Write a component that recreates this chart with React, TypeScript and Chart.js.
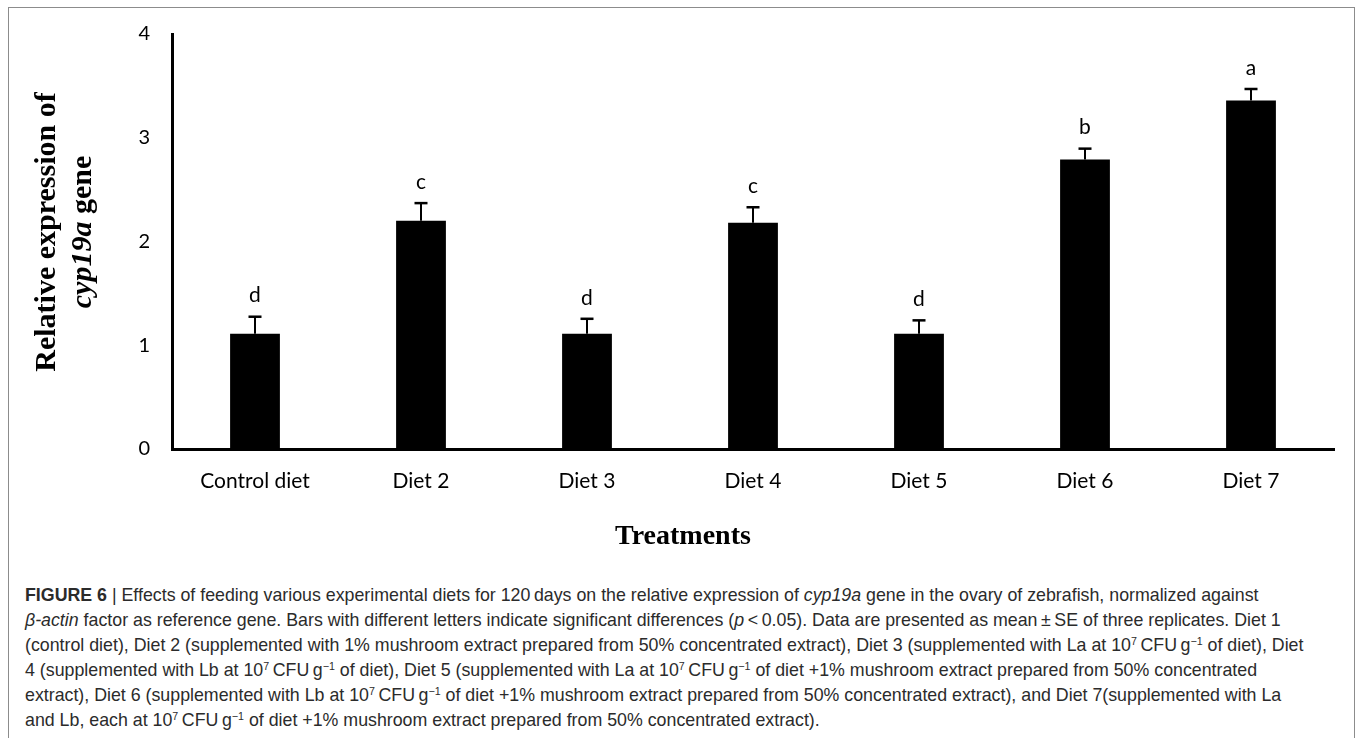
import { useEffect, useRef } from "react";
import { Chart, registerables } from "chart.js";

Chart.register(...registerables);

// Treatments on the x axis and the measured relative expression (mean ± SE)
const treatments = ["Control diet", "Diet 2", "Diet 3", "Diet 4", "Diet 5", "Diet 6", "Diet 7"];
const meanExpression = [1.11, 2.2, 1.11, 2.18, 1.11, 2.79, 3.36];
const standardError = [0.165, 0.17, 0.145, 0.15, 0.13, 0.105, 0.11];
const significanceLetters = ["d", "c", "d", "c", "d", "b", "a"];
const yTickValues = [0, 1, 2, 3, 4];

const TICK_FONT = "Lato, 'Open Sans', sans-serif";
const SERIF = "'Liberation Serif', 'Times New Roman', serif";

// Error bars and the significance letters above each bar
const errorBarPlugin = {
  id: "errorBars",
  afterDatasetsDraw(chart: any) {
    const { ctx, scales } = chart;
    const x = scales.x;
    const y = scales.y;
    ctx.save();
    ctx.strokeStyle = "#000";
    ctx.fillStyle = "#000";
    meanExpression.forEach((v, i) => {
      const cx = x.getPixelForValue(i);
      const yTop = y.getPixelForValue(v);
      const yErr = y.getPixelForValue(v + standardError[i]);
      ctx.lineWidth = 2;
      ctx.beginPath();
      ctx.moveTo(cx, yTop);
      ctx.lineTo(cx, yErr);
      ctx.stroke();
      ctx.lineWidth = 2.5;
      ctx.beginPath();
      ctx.moveTo(cx - 6.5, yErr);
      ctx.lineTo(cx + 6.5, yErr);
      ctx.stroke();
      ctx.font = `21px ${TICK_FONT}`;
      ctx.textAlign = "center";
      ctx.textBaseline = "middle";
      ctx.fillText(significanceLetters[i], cx, yErr - 21);
    });
    ctx.restore();
  },
};

// Axis titles: two-line rotated y title with an italic gene name, and the x title
const axisTitlePlugin = {
  id: "axisTitles",
  afterDraw(chart: any) {
    const ctx = chart.ctx;
    ctx.save();
    ctx.fillStyle = "#000";
    ctx.textBaseline = "middle";

    ctx.save();
    ctx.translate(47, 232);
    ctx.rotate(-Math.PI / 2);
    ctx.textAlign = "center";
    const boldFont = `bold 30px ${SERIF}`;
    const italicFont = `italic bold 30px ${SERIF}`;
    ctx.font = boldFont;
    ctx.fillText("Relative expression of", 0, 0);

    ctx.font = italicFont;
    const w1 = ctx.measureText("cyp19a").width;
    ctx.font = boldFont;
    const w2 = ctx.measureText(" gene").width;
    const start = -(w1 + w2) / 2;
    ctx.textAlign = "left";
    ctx.font = italicFont;
    ctx.fillText("cyp19a", start, 36);
    ctx.font = boldFont;
    ctx.fillText(" gene", start + w1, 36);
    ctx.restore();

    ctx.textAlign = "center";
    ctx.font = `bold 28px ${SERIF}`;
    ctx.fillText("Treatments", 683, 537);
    ctx.restore();
  },
};

function ExpressionChart() {
  const canvasRef = useRef<HTMLCanvasElement | null>(null);

  useEffect(() => {
    if (!canvasRef.current) return;
    const chart = new Chart(canvasRef.current, {
      type: "bar",
      data: {
        labels: treatments,
        datasets: [
          {
            data: meanExpression,
            backgroundColor: "#000",
            borderWidth: 0,
            barPercentage: 0.3,
            categoryPercentage: 1,
          },
        ],
      },
      options: {
        animation: false,
        responsive: false,
        maintainAspectRatio: false,
        layout: { padding: { top: 32, right: 23, left: 0, bottom: 0 } },
        plugins: {
          legend: { display: false },
          tooltip: { enabled: false },
        },
        scales: {
          x: {
            grid: { display: false, drawTicks: false },
            border: { display: true, color: "#000", width: 3 },
            ticks: {
              color: "#000",
              font: { family: TICK_FONT, size: 21 },
              padding: 20,
              maxRotation: 0,
            },
            afterFit(scale: any) {
              scale.height = 111;
            },
          },
          y: {
            min: 0,
            max: 4,
            grid: { display: false, drawTicks: false },
            border: { display: true, color: "#000", width: 3 },
            afterBuildTicks(scale: any) {
              scale.ticks = yTickValues.map((v) => ({ value: v }));
            },
            ticks: {
              color: "#000",
              font: { family: TICK_FONT, size: 20 },
              padding: 22,
            },
            afterFit(scale: any) {
              scale.width = 172;
            },
          },
        },
      },
      plugins: [errorBarPlugin, axisTitlePlugin],
    });
    return () => chart.destroy();
  }, []);

  return (
    <canvas
      ref={canvasRef}
      width={1357}
      height={560}
      style={{ position: "absolute", left: 0, top: 0, width: 1357, height: 560 }}
    />
  );
}

const captionStyle: React.CSSProperties = {
  position: "absolute",
  left: 25,
  top: 583,
  fontFamily: "'Liberation Sans', Arial, Helvetica, sans-serif",
  fontSize: 17.8,
  lineHeight: "25px",
  color: "#2b2b2b",
  whiteSpace: "nowrap",
};

const sup = (t: string) => (
  <sup style={{ fontSize: "0.6em", verticalAlign: "0.55em", lineHeight: 0 }}>{t}</sup>
);

const cfu = (
  <>
    10{sup("7")}{"\u2009"}CFU{"\u2009"}g{sup("\u22121")}
  </>
);

export default function App() {
  return (
    <div
      style={{
        position: "fixed",
        left: 0,
        top: 0,
        width: 1357,
        height: 738,
        background: "#fff",
        overflow: "hidden",
      }}
    >
      <div
        style={{
          position: "absolute",
          left: 8,
          top: 7,
          width: 1345,
          height: 760,
          borderTop: "1.5px solid #8c8c8c",
          borderLeft: "1.5px solid #8c8c8c",
          borderRight: "1.5px solid #8c8c8c",
        }}
      />
      <ExpressionChart />
      <div style={captionStyle}>
        <div>
          <b>FIGURE 6</b> | Effects of feeding various experimental diets for 120{"\u2009"}days on the relative
          expression of <i>cyp19a</i> gene in the ovary of zebrafish, normalized against
        </div>
        <div>
          <i>β-actin</i> factor as reference gene. Bars with different letters indicate significant differences (
          <i>p</i>{"\u2009"}&lt;{"\u2009"}0.05). Data are presented as mean{"\u2009"}±{"\u2009"}SE of three replicates. Diet 1
        </div>
        <div>
          (control diet), Diet 2 (supplemented with 1% mushroom extract prepared from 50% concentrated extract), Diet 3
          (supplemented with La at {cfu} of diet), Diet
        </div>
        <div>
          4 (supplemented with Lb at {cfu} of diet), Diet 5 (supplemented with La at {cfu} of diet +1% mushroom extract
          prepared from 50% concentrated
        </div>
        <div>
          extract), Diet 6 (supplemented with Lb at {cfu} of diet +1% mushroom extract prepared from 50% concentrated
          extract), and Diet 7(supplemented with La
        </div>
        <div>and Lb, each at {cfu} of diet +1% mushroom extract prepared from 50% concentrated extract).</div>
      </div>
    </div>
  );
}
